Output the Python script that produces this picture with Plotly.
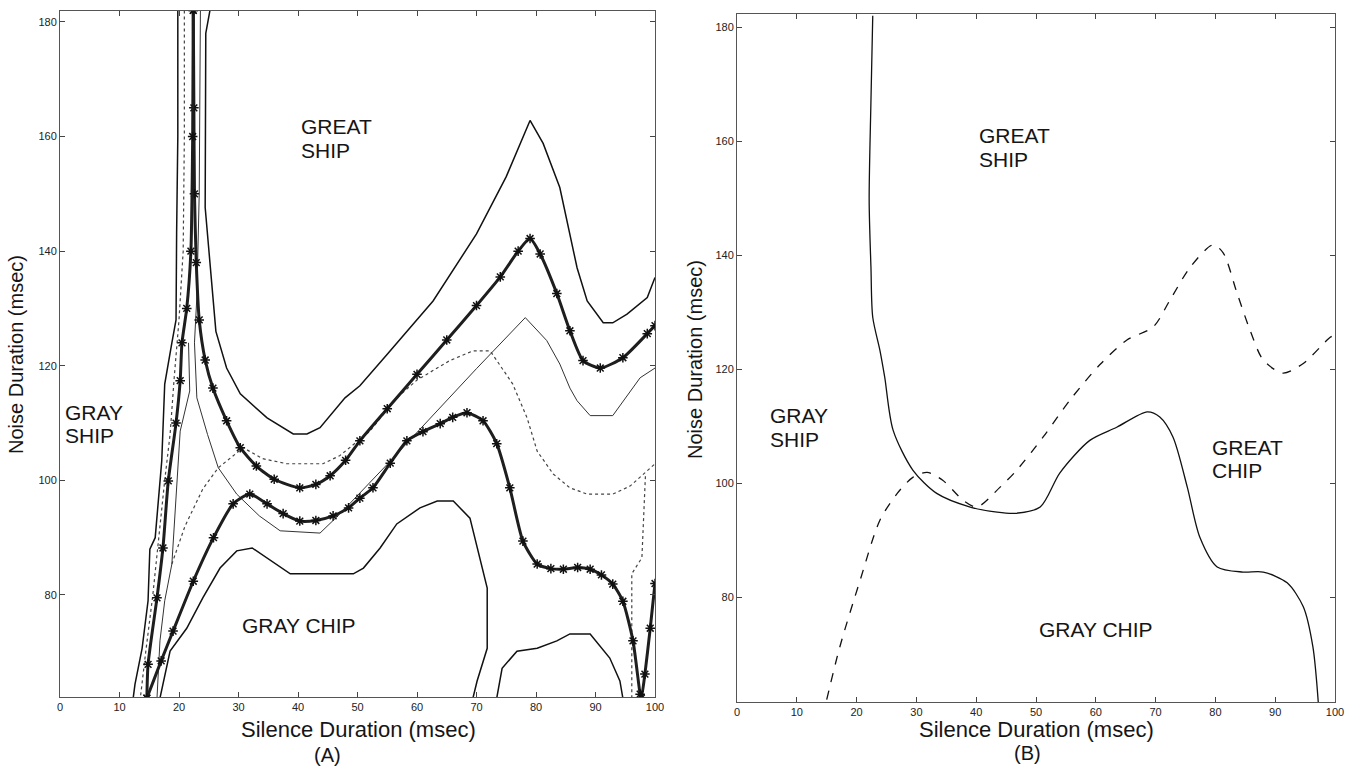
import plotly.graph_objects as go

# ---------------- Panel (A) data (Silence ms -> Noise ms) ----------------
a_star_x = [22.4, 22.5, 22.6, 22.9, 23.4, 24.4, 25.7, 28.0, 30.3, 33.0, 36.0, 40.3, 43.0, 45.4, 48.0, 50.4,
            55.0, 60.0, 65.0, 70.0, 74.0, 77.0, 79.0, 80.7, 83.5, 85.7, 87.9, 90.8, 94.6, 98.7, 100]
a_star_y = [182, 165, 150, 138, 128, 121, 116.1, 110.4, 105.7, 102.5, 100.2, 98.7, 99.3, 100.8, 103.5, 106.9,
            112.5, 118.5, 124.5, 130.5, 135.5, 140.0, 142.2, 139.5, 132.6, 126.1, 120.9, 119.6, 121.4, 125.6, 127]

d_star_x = [22.4, 22.3, 22.0, 21.3, 20.5, 20.2, 19.5, 18.2, 17.3, 16.3, 14.8, 14.6]
d_star_y = [182, 160, 140, 130, 124, 117.4, 110, 99.9, 88.2, 79.5, 67.9, 62]

b_star_x = [14.6, 17.0, 19.0, 22.4, 25.8, 29.1, 31.9, 34.8, 37.5, 40.3, 43.0, 45.9, 48.5, 50.4, 52.6, 55.5,
            58.3, 61.0, 63.9, 66.0, 68.4, 71.1, 73.4, 75.6, 77.8, 80.2, 82.5, 84.6, 87.0, 89.1, 91.0, 92.9,
            94.6, 96.3, 97.5, 97.7, 98.3, 99.2, 100]
b_star_y = [62, 68.5, 73.7, 82.4, 90.0, 95.9, 97.6, 95.9, 94.2, 92.9, 93.0, 93.8, 95.2, 96.9, 98.7, 103.0,
            106.9, 108.5, 109.9, 111.0, 111.8, 110.4, 106.4, 98.7, 89.4, 85.4, 84.6, 84.5, 84.8, 84.5, 83.5, 81.9,
            78.9, 72.0, 62.7, 62.0, 66.2, 74.2, 82]

upper_band_x = [25.2, 24.5, 24.4, 25.0, 25.7, 26.2, 28.0, 30.3, 34.8, 39.2, 41.5, 43.7, 47.9, 50.4, 55.0, 62.7,
                70.0, 75.0, 79.0, 81.2, 84.0, 85.7, 86.9, 88.6, 91.3, 92.9, 95.3, 98.7, 100]
upper_band_y = [182, 178, 147.6, 140, 132.5, 126, 119.6, 115.1, 110.9, 108.1, 108.1, 109.2, 114.4, 116.5, 122, 131.3,
                143, 153, 162.8, 158.8, 151.1, 143, 137.1, 131.3, 127.5, 127.5, 129, 131.9, 135.4]

left_band_x = [19.8, 19.8, 19.6, 19.5, 18.8, 17.6, 17.1, 16.0, 15.1, 14.8, 13.8, 12.6, 12.3]
left_band_y = [182, 160, 143, 128, 124, 116.8, 103.4, 90, 88, 79, 70.7, 64.4, 62]

left_inner_x = [20.9, 20.9, 20.7, 20.0, 19.2, 18.5, 17.6, 16.6, 15.6, 14.4, 13.5]
left_inner_y = [182, 160, 140, 128, 118, 108, 100, 90, 80, 70, 62]

mid_inner_x = [21.6, 21.8, 20.2, 19.8, 19.3, 18.8, 17.6, 16.8, 16.3]
mid_inner_y = [124, 115.6, 108.6, 101.7, 93.4, 85.4, 79, 72, 62]

thin_x = [23.6, 23.4, 23.0, 22.6, 23.0, 24.8, 26.6, 29.7, 33.5, 37.0, 43.7, 47.0, 55.0, 62.7, 70.0, 78.2,
          81.8, 84.0, 85.7, 86.9, 89.1, 92.9, 97.5, 100]
thin_y = [182, 150, 132, 124, 114.4, 108, 102.2, 97.6, 93.8, 91.2, 90.8, 94.1, 102.8, 111.4, 119.5, 128.4,
          124.4, 120.3, 116.1, 113.9, 111.3, 111.3, 117.9, 119.6]

dashed_x = [18.8, 21.0, 24.0, 26.6, 30.8, 34.0, 38.1, 44.2, 47.0, 52.0, 56.6, 60.0, 65.5, 69.4, 72.3, 76.1,
            78.5, 80.2, 82.9, 85.7, 88.6, 92.9, 95.8, 100]
dashed_y = [85.4, 92, 98.5, 102.2, 105.7, 103.8, 102.9, 102.9, 104.3, 108.5, 114.4, 117.5, 120.9, 122.6, 122.6, 116.8,
            110.9, 105.1, 101.1, 98.7, 97.6, 97.6, 99.0, 102.9]

lower_band_x = [16.8, 18.5, 21.3, 24.0, 26.9, 29.7, 32.3, 34.8, 38.7, 45.4, 49.3, 51.0, 53.8, 56.6, 60.5, 63.4,
                66.1, 68.9, 70.1, 71.8, 71.8, 70.1, 69.4]
lower_band_y = [62, 70.2, 74.2, 79.5, 84.7, 87.7, 88.2, 86.5, 83.7, 83.7, 83.7, 84.7, 88.2, 92.4, 95.2, 96.4,
                96.4, 93.4, 88.2, 81.2, 70.7, 65, 62]

hump_x = [73.4, 74.3, 76.8, 80.2, 83.5, 85.7, 89.1, 92.4, 94.1, 94.6]
hump_y = [62, 67.2, 70.2, 70.7, 72, 73.2, 73.2, 69, 65, 62]

right_x = [96.1, 96.1, 97.8, 98.2, 98.4]
right_y = [62, 83.7, 86.5, 95, 101]

# ---------------- Panel (B) data ----------------
b_solid_x = [22.7, 22.4, 22.1, 22.4, 22.7, 23.9, 24.7, 26.1, 29.4, 33.4, 39.0, 43.5, 46.5, 50.7, 54.0, 59.0,
             63.5, 68.6, 70.7, 72.9, 75.3, 77.4, 80.3, 84.6, 88.0, 92.0, 94.7, 96.3, 97.2]
b_solid_y = [182, 167, 149.6, 137.9, 129.1, 123.3, 118.6, 109.3, 102.3, 98.2, 95.8, 94.9, 94.7, 95.8, 101.8, 107.5,
             109.8, 112.5, 111.6, 108.1, 99.3, 90.5, 85.3, 84.4, 84.4, 82.5, 78.3, 71.3, 61.6]

b_dash_x = [15.0, 17.2, 20.6, 23.9, 26.8, 29.4, 31.8, 34.4, 37.8, 40.1, 44.0, 46.8, 51.2, 55.7, 60.7, 65.2,
            69.6, 72.4, 75.8, 79.6, 81.3, 83.6, 85.8, 88.0, 91.3, 94.7, 99.2, 100]
b_dash_y = [62, 71.3, 83, 93.5, 98.2, 101, 101.9, 100.5, 97, 95.8, 99.3, 102.3, 108.1, 114.6, 120.8, 125.1,
            127.4, 132.1, 137.9, 141.8, 140.4, 133.4, 126.8, 121.6, 119.3, 121, 125.6, 126]

x_ticks = [0, 10, 20, 30, 40, 50, 60, 70, 80, 90, 100]
y_ticks = [80, 100, 120, 140, 160, 180]

x_title = "Silence Duration (msec)"
y_title = "Noise Duration (msec)"
panel_names = ["(A)", "(B)"]

FONT = "Liberation Sans, Arial, Helvetica, sans-serif"
INK = "#151515"

W, H = 1354, 772

fig = go.Figure()


def add(x, y, xa, ya, **kw):
    fig.add_trace(go.Scatter(x=x, y=y, xaxis=xa, yaxis=ya, showlegend=False,
                             hoverinfo="skip", cliponaxis=True, **kw))


star_style = dict(mode="lines+markers",
                  line=dict(color="#1e1e1e", width=3, shape="spline", smoothing=0.6),
                  marker=dict(symbol="asterisk-open", size=8, color="#111",
                              line=dict(color="#111", width=1.5)))
solid = dict(mode="lines", line=dict(color="#111", width=1.5))
thin = dict(mode="lines", line=dict(color="#333", width=1))
dotted = dict(mode="lines", line=dict(color="#444", width=1.2, dash="dot"))

# Panel A traces
add(upper_band_x, upper_band_y, "x", "y", **solid)
add(left_band_x, left_band_y, "x", "y", **solid)
add(lower_band_x, lower_band_y, "x", "y", **solid)
add(hump_x, hump_y, "x", "y", **solid)
add(thin_x, thin_y, "x", "y", **thin)
add(mid_inner_x, mid_inner_y, "x", "y", **thin)
add(left_inner_x, left_inner_y, "x", "y", **dotted)
add(dashed_x, dashed_y, "x", "y", **dotted)
add(right_x, right_y, "x", "y", **dotted)
add(a_star_x, a_star_y, "x", "y", **star_style)
add(d_star_x, d_star_y, "x", "y", **star_style)
add(b_star_x, b_star_y, "x", "y", **star_style)

# Panel B traces
add(b_solid_x, b_solid_y, "x2", "y2", mode="lines",
    line=dict(color="#111", width=1.3, shape="spline", smoothing=0.8))
add(b_dash_x, b_dash_y, "x2", "y2", mode="lines",
    line=dict(color="#111", width=1.3, dash="dash", shape="spline", smoothing=0.8))


def dom_x(p0, p1):
    return [p0 / W, p1 / W]


def dom_y(top, bottom):
    return [(H - bottom) / H, (H - top) / H]


axis_common = dict(showline=True, mirror="ticks", linecolor="#555", linewidth=1,
                   ticks="inside", ticklen=5, tickcolor="#444", tickwidth=1,
                   showgrid=False, zeroline=False, automargin=False,
                   tickfont=dict(family=FONT, size=11, color="#222"))

fig.update_layout(
    template="none",
    width=W, height=H, margin=dict(l=0, r=0, t=0, b=0, pad=0, autoexpand=False),
    paper_bgcolor="white", plot_bgcolor="white", showlegend=False,
    xaxis=dict(domain=dom_x(60, 655), range=[0, 100], anchor="y", tickvals=x_ticks, **axis_common),
    yaxis=dict(domain=dom_y(11, 697), range=[62.2, 181.9], anchor="x", tickvals=y_ticks, **axis_common),
    xaxis2=dict(domain=dom_x(737, 1335), range=[0, 100], anchor="y2", tickvals=x_ticks, **axis_common),
    yaxis2=dict(domain=dom_y(14, 702), range=[61.6, 182.3], anchor="x2", tickvals=y_ticks, **axis_common),
)

ann = []
# region labels (one line per annotation)
region_labels = [
    ("GREAT", "x", "y", 40.2, 161.7), ("SHIP", "x", "y", 40.2, 157.6),
    ("GRAY", "x", "y", 0.5, 111.8), ("SHIP", "x", "y", 0.5, 107.8),
    ("GRAY CHIP", "x", "y", 30.3, 74.6),
    ("GREAT", "x2", "y2", 40.1, 161.0), ("SHIP", "x2", "y2", 40.1, 156.8),
    ("GRAY", "x2", "y2", 5.2, 111.8), ("SHIP", "x2", "y2", 5.2, 107.6),
    ("GREAT", "x2", "y2", 79.1, 106.2), ("CHIP", "x2", "y2", 79.1, 102.3),
    ("GRAY CHIP", "x2", "y2", 50.2, 74.3),
]
for txt, xr, yr, xv, yv in region_labels:
    ann.append(dict(text=txt, xref=xr, yref=yr, x=xv, y=yv, xanchor="left", yanchor="middle",
                    showarrow=False, font=dict(family=FONT, size=21, color=INK)))


def paper(px, py):
    return px / W, (H - py) / H


for cx, cy in [(16, 355), (695, 360)]:
    xp, yp = paper(cx, cy)
    ann.append(dict(text=y_title, xref="paper", yref="paper", x=xp, y=yp, xanchor="center", yanchor="middle",
                    textangle=-90, showarrow=False, borderpad=0, font=dict(family=FONT, size=20, color=INK)))
for cx, cy in [(358, 729), (1036, 729)]:
    xp, yp = paper(cx, cy)
    ann.append(dict(text=x_title, xref="paper", yref="paper", x=xp, y=yp, xanchor="center", yanchor="middle",
                    showarrow=False, borderpad=0, font=dict(family=FONT, size=22, color=INK)))
for name, (cx, cy) in zip(panel_names, [(327, 755), (1027, 753)]):
    xp, yp = paper(cx, cy)
    ann.append(dict(text=name, xref="paper", yref="paper", x=xp, y=yp, xanchor="center", yanchor="middle",
                    showarrow=False, borderpad=0, font=dict(family=FONT, size=20, color=INK)))

fig.update_layout(annotations=ann)
fig.write_html("out.html",
               config={"displayModeBar": False, "staticPlot": True},
               post_script="document.body.style.margin='0';document.body.style.overflow='hidden';")
